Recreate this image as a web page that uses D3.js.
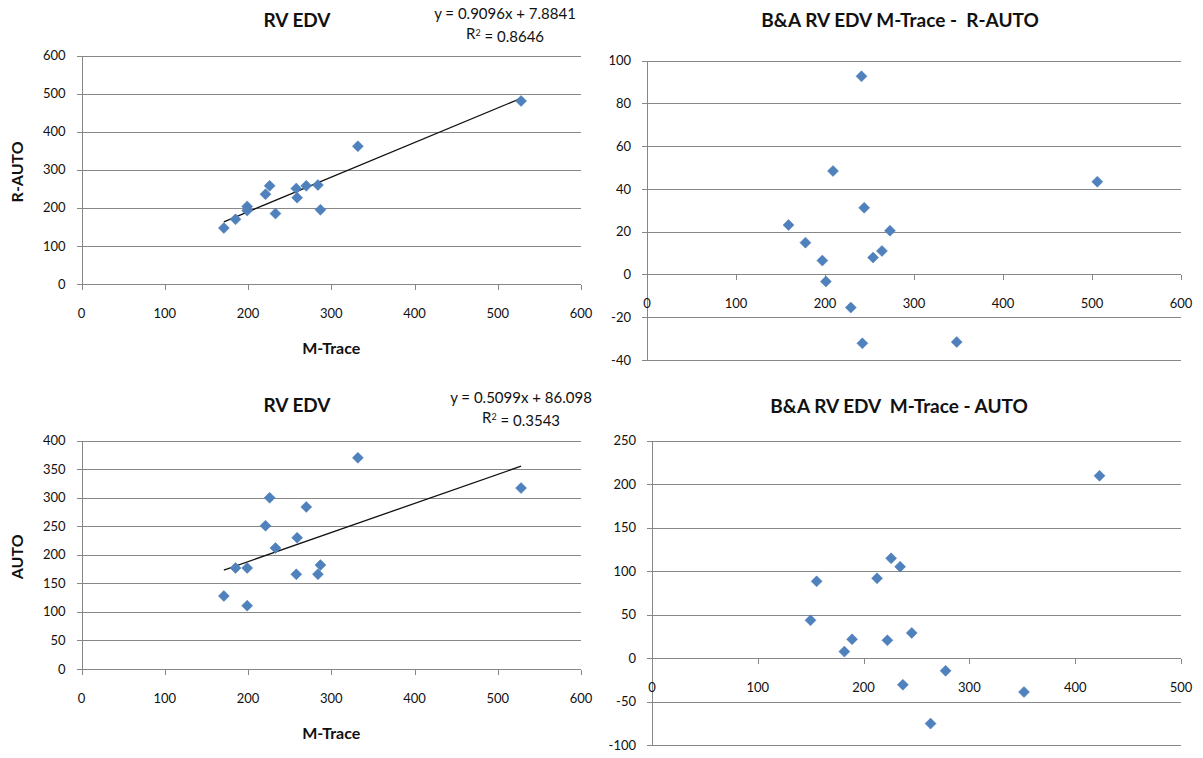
<!DOCTYPE html>
<meta charset="utf-8">
<style>
body {
  margin: 0;
  background: #fff;
  font-family: Lato, "Open Sans", sans-serif;
}
.grid line, .axis-line {
  stroke: #878787;
  stroke-width: 1;
  shape-rendering: crispEdges;
}
.tick-label {
  font-size: 13px;
  fill: #111;
}
.title {
  font-size: 19px;
  font-weight: bold;
  fill: #111;
  white-space: pre;
}
.axis-title {
  font-size: 16px;
  font-weight: bold;
  fill: #111;
}
.eq {
  font-size: 15px;
  fill: #111;
}
.point {
  fill: #4f81bd;
  stroke: #4a7ab5;
  stroke-width: 0.5;
}
.trend {
  stroke: #111;
  stroke-width: 1.3;
  fill: none;
}
</style>
<body>
<script src="https://cdn.jsdelivr.net/npm/d3@7"></script>
<script>

// values
var mTrace = [171, 185, 199, 199, 221, 226, 233, 258, 259, 270, 284, 287, 332, 528];
var rAuto  = [147, 170, 204, 193, 236, 258, 185, 251, 227, 258, 260, 195, 362, 481];
var auto   = [128, 177, 177, 111, 251, 300, 212, 166, 230, 284, 166, 182, 370, 317];

// Bland-Altman M-Trace - R-AUTO (mean, difference)
var baRMean = [241, 209, 506, 244, 159, 273, 178, 264, 254, 197, 201, 229, 242, 348];
var baRDiff = [92.7, 48.4, 43.4, 31.2, 23.1, 20.5, 14.9, 11.0, 7.9, 6.5, -3.3, -15.5, -32.2, -31.6];

// Bland-Altman M-Trace - AUTO (mean, difference)
var baAMean = [423, 226, 234.5, 212.7, 155.6, 149.8, 245.5, 189.1, 222.5, 181.8, 277.5, 237.1, 351.6, 263.3];
var baADiff = [209.7, 114.7, 105.1, 91.7, 88.2, 43.4, 28.9, 21.6, 20.4, 7.4, -14.6, -30.7, -39.0, -75.4];

// trend lines (slope, intercept) as printed on the chart
var fitR = [0.9096, 7.8841];
var fitA = [0.5099, 86.098];

var xTicks600 = [0, 100, 200, 300, 400, 500, 600];
var xTicks500 = [0, 100, 200, 300, 400, 500];
var yTicksR = [0, 100, 200, 300, 400, 500, 600];
var yTicksBaR = [-40, -20, 0, 20, 40, 60, 80, 100];
var yTicksA = [0, 50, 100, 150, 200, 250, 300, 350, 400];
var yTicksBaA = [-100, -50, 0, 50, 100, 150, 200, 250];

var width = 1203,
    height = 758;

var svg = d3.select("body").append("svg")
    .attr("width", width)
    .attr("height", height);

function diamond(r) {
  return "M0," + (-r) + "L" + r + ",0L0," + r + "L" + (-r) + ",0Z";
}

function drawPanel(p) {
  var x = d3.scaleLinear().domain(d3.extent(p.xTicks)).range([p.left, p.right]);
  var y = d3.scaleLinear().domain(d3.extent(p.yTicks)).range([p.bottom, p.top]);
  var g = svg.append("g");

  // gridlines
  g.append("g").attr("class", "grid")
    .selectAll("line")
    .data(p.yTicks)
    .enter().append("line")
    .attr("x1", p.left - 5)
    .attr("x2", p.right)
    .attr("y1", function(d) { return Math.round(y(d)) + 0.5; })
    .attr("y2", function(d) { return Math.round(y(d)) + 0.5; });

  // y axis line
  g.append("line").attr("class", "axis-line")
    .attr("x1", Math.round(p.left) + 0.5)
    .attr("x2", Math.round(p.left) + 0.5)
    .attr("y1", p.top)
    .attr("y2", p.bottom);

  // x ticks sit on y = 0
  var y0 = Math.round(y(0)) + 0.5;
  g.append("g").attr("class", "grid")
    .selectAll("line")
    .data(p.xTicks)
    .enter().append("line")
    .attr("x1", function(d) { return Math.round(x(d)) + 0.5; })
    .attr("x2", function(d) { return Math.round(x(d)) + 0.5; })
    .attr("y1", y0)
    .attr("y2", y0 + 5);

  g.selectAll(".ylab")
    .data(p.yTicks)
    .enter().append("text")
    .attr("class", "tick-label")
    .attr("x", p.left - 16)
    .attr("y", function(d) { return y(d); })
    .attr("dy", "0.35em")
    .attr("text-anchor", "end")
    .text(function(d) { return d; });

  g.selectAll(".xlab")
    .data(p.xTicks)
    .enter().append("text")
    .attr("class", "tick-label")
    .attr("x", function(d) { return x(d); })
    .attr("y", y(0) + 29)
    .attr("dy", "0.35em")
    .attr("text-anchor", "middle")
    .text(function(d) { return d; });

  g.append("text")
    .attr("class", "title")
    .attr("x", p.titleX)
    .attr("y", p.titleY)
    .attr("dy", "0.35em")
    .attr("text-anchor", "middle")
    .text(p.title);

  if (p.xTitle) {
    g.append("text")
      .attr("class", "axis-title")
      .attr("x", (p.left + p.right) / 2)
      .attr("y", p.bottom + 64)
      .attr("dy", "0.35em")
      .attr("text-anchor", "middle")
      .text(p.xTitle);
  }
  if (p.yTitle) {
    g.append("text")
      .attr("class", "axis-title")
      .attr("transform", "translate(17," + ((p.top + p.bottom) / 2 + 2) + ")rotate(-90)")
      .attr("dy", "0.35em")
      .attr("text-anchor", "middle")
      .text(p.yTitle);
  }

  if (p.fit) {
    var xs = d3.extent(p.xs);
    g.append("line")
      .attr("class", "trend")
      .attr("x1", x(xs[0]))
      .attr("y1", y(p.fit[0] * xs[0] + p.fit[1]))
      .attr("x2", x(xs[1]))
      .attr("y2", y(p.fit[0] * xs[1] + p.fit[1]));

    g.append("text")
      .attr("class", "eq")
      .attr("x", p.eqX)
      .attr("y", p.eqY)
      .attr("dy", "0.35em")
      .attr("text-anchor", "middle")
      .text("y = " + p.fit[0] + "x + " + p.fit[1]);

    var r2 = g.append("text")
      .attr("class", "eq")
      .attr("x", p.eqX)
      .attr("y", p.eqY + 20)
      .attr("dy", "0.35em")
      .attr("text-anchor", "middle");
    r2.append("tspan").text("R");
    r2.append("tspan").attr("dy", "-0.4em").style("font-size", "9px").text("2");
    r2.append("tspan").attr("dy", "0.4em").text(" = " + p.r2);
  }

  var pts = p.xs.map(function(d, i) { return {x: d, y: p.ys[i]}; });
  g.selectAll(".point")
    .data(pts)
    .enter().append("path")
    .attr("class", "point")
    .attr("d", diamond(5.5))
    .attr("transform", function(d) { return "translate(" + x(d.x) + "," + y(d.y) + ")"; });
}

drawPanel({
  left: 81.5, right: 581, top: 55.7, bottom: 284,
  xTicks: xTicks600, yTicks: yTicksR,
  xs: mTrace, ys: rAuto,
  title: "RV EDV", titleX: 297, titleY: 20,
  xTitle: "M-Trace", yTitle: "R-AUTO",
  fit: fitR, r2: "0.8646", eqX: 505, eqY: 14
});

drawPanel({
  left: 647, right: 1181, top: 60.7, bottom: 360,
  xTicks: xTicks600, yTicks: yTicksBaR,
  xs: baRMean, ys: baRDiff,
  title: "B&A RV EDV M-Trace -  R-AUTO", titleX: 900, titleY: 20
});

drawPanel({
  left: 81.5, right: 581, top: 440.7, bottom: 669,
  xTicks: xTicks600, yTicks: yTicksA,
  xs: mTrace, ys: auto,
  title: "RV EDV", titleX: 297, titleY: 405,
  xTitle: "M-Trace", yTitle: "AUTO",
  fit: fitA, r2: "0.3543", eqX: 521, eqY: 398
});

drawPanel({
  left: 652, right: 1181, top: 440.7, bottom: 745,
  xTicks: xTicks500, yTicks: yTicksBaA,
  xs: baAMean, ys: baADiff,
  title: "B&A RV EDV  M-Trace - AUTO", titleX: 899, titleY: 406
});

</script>
